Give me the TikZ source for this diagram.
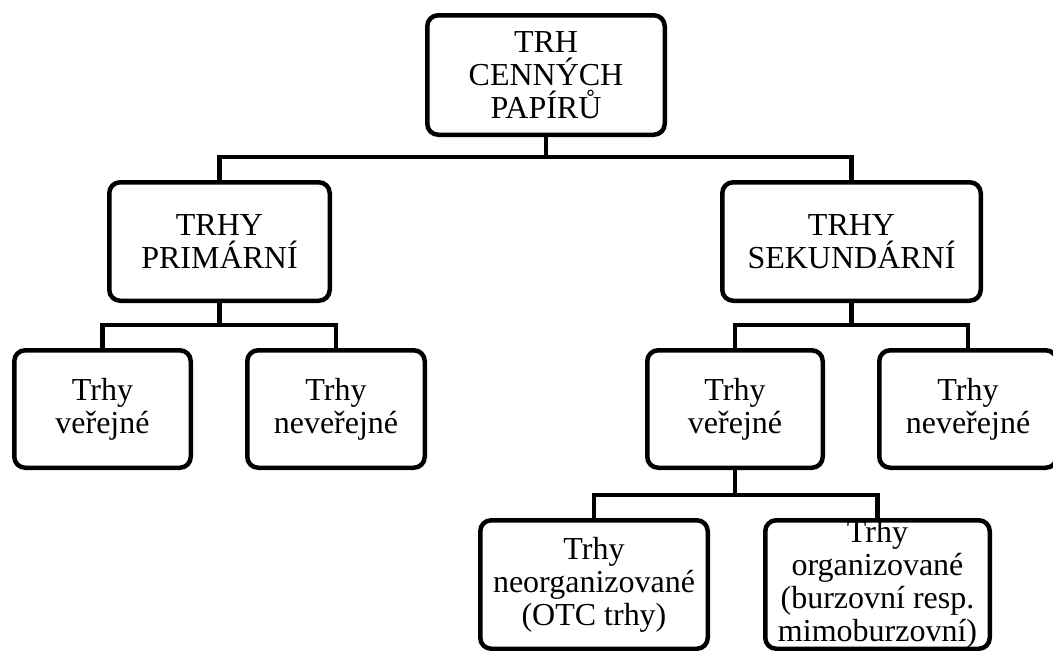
\documentclass[tikz,border=0pt]{standalone}
\usepackage{fontspec}
\setmainfont{Liberation Serif}
\usepackage{tikz}
\usetikzlibrary{positioning,calc}

\begin{document}
\begin{tikzpicture}[x=1pt,y=-1pt,
  box/.style={draw,line width=4.5pt,rounded corners=11pt,align=center,
    inner sep=0pt,font=\fontsize{32}{33}\selectfont},
  link/.style={line width=4.5pt}]
\useasboundingbox (0,0) rectangle (1053,651);
\clip (0,0) rectangle (1053,651);
% top level
\node[box,minimum width=237.5pt,minimum height=119.5pt] (root) at (546,75) {TRH\\CENNÝCH\\PAPÍRŮ};
\node[box,minimum width=220.5pt,minimum height=118.5pt] (prim) at (219.5,241.5) {TRHY\\PRIMÁRNÍ};
\node[box,minimum width=258.5pt,minimum height=118.5pt] (sek) at (851.5,241.5) {TRHY\\SEKUNDÁRNÍ};
% second level
\foreach \n/\x/\w/\t in {pv/102.5/176.5/veřejné,pn/336/177.5/neveřejné,sv/735/175.5/veřejné,sn/968/177.5/neveřejné}{
  \node[box,minimum width=\w pt,minimum height=117.5pt] (\n) at (\x,409) {Trhy\\\t};
}
% third level
\node[box,minimum width=227.5pt,minimum height=128.5pt] (neorg) at (594,584.5) {Trhy\\neorganizované\\(OTC trhy)};
\node[box,minimum width=224.5pt,minimum height=128.5pt] (org) at (877.5,584.5) {Trhy\\organizované\\(burzovní resp.\\mimoburzovní)};
% connectors
\draw[link] (root.south) -- ++(0,20);
\draw[link] (prim.north) -- ++(0,-23) -| (sek.north);
\draw[link] (prim.south) -- ++(0,22);
\draw[link] (pv.north) -- ++(0,-23) -| (pn.north);
\draw[link] (sek.south) -- ++(0,22);
\draw[link] (sv.north) -- ++(0,-23) -| (sn.north);
\draw[link] (sv.south) -- ++(0,25);
\draw[link] (neorg.north) -- ++(0,-23) -| (org.north);
\end{tikzpicture}
\end{document}
